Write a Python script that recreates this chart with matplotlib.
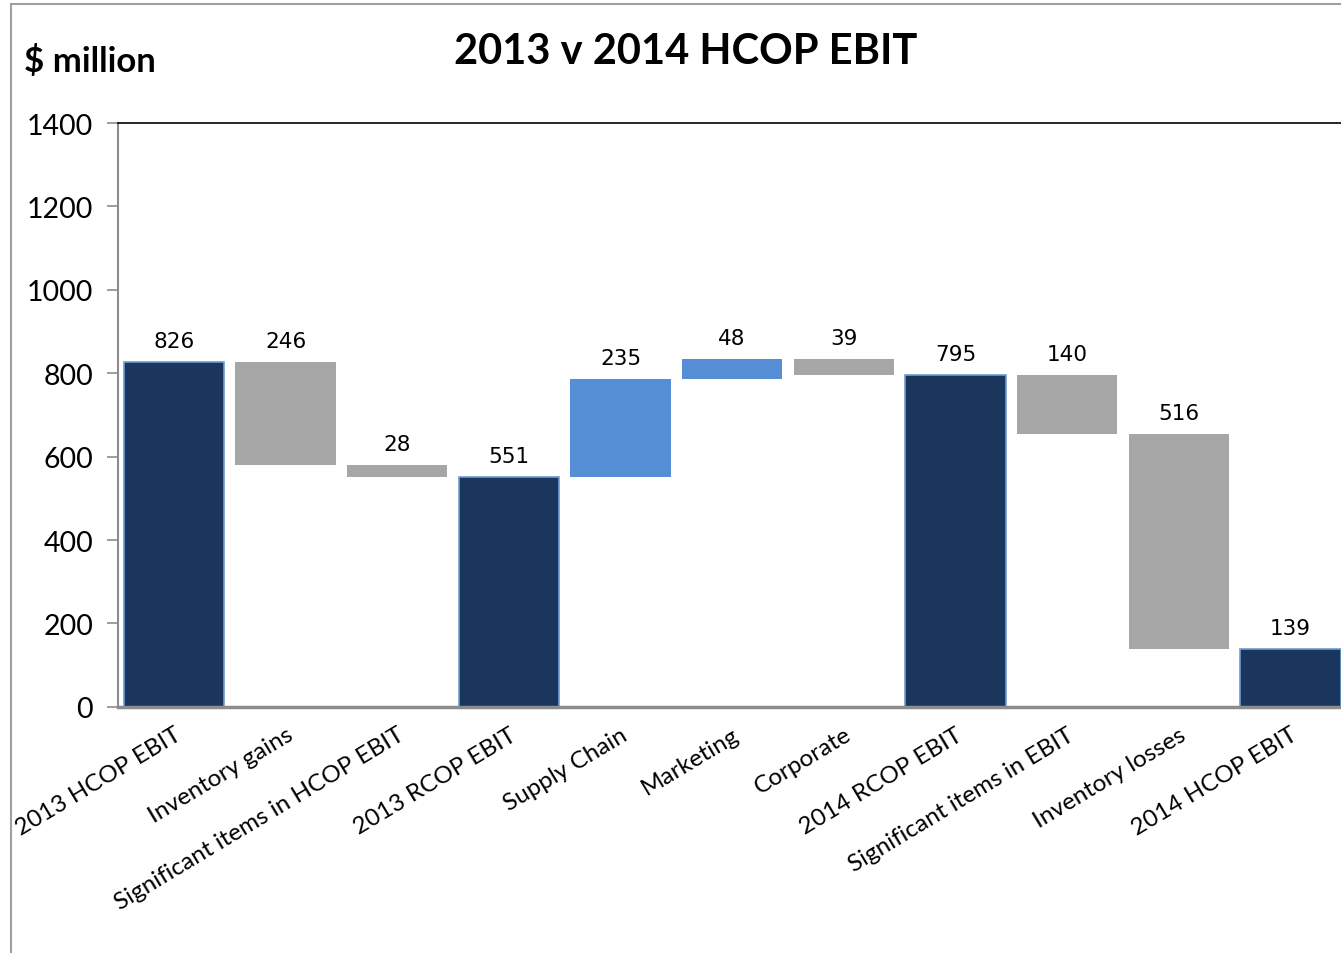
import matplotlib.pyplot as plt
import numpy as np
from matplotlib.patches import Rectangle

# Bridge data ($ million)
categories = [
    "2013 HCOP EBIT",
    "Inventory gains",
    "Significant items in HCOP EBIT",
    "2013 RCOP EBIT",
    "Supply Chain",
    "Marketing",
    "Corporate",
    "2014 RCOP EBIT",
    "Significant items in EBIT",
    "Inventory losses",
    "2014 HCOP EBIT",
]
# signed change for steps, level for totals
values = [826, -246, -28, 551, 235, 48, -39, 795, -140, -516, 139]
kinds = ["total", "step", "step", "total", "step", "step", "step",
         "total", "step", "step", "total"]

navy = "#1b365d"
navy_edge = "#6f9bd1"
grey = "#a6a6a6"
blue = "#558ed5"

plt.rcParams["font.family"] = ["Lato", "DejaVu Sans"]

fig = plt.figure(figsize=(13.41, 9.54), dpi=100)
ax = fig.add_axes([0.088, 0.258, 0.916, 0.612])

x = np.arange(len(categories))
level = 0
for i, (v, k) in enumerate(zip(values, kinds)):
    if k == "total":
        bottom, height = 0, v
        level = v
        color, ec, lw = navy, navy_edge, 1.2
    else:
        if v >= 0:
            bottom, height = level, v
            color = blue
        else:
            bottom, height = level + v, -v
            color = grey
        level = level + v
        ec, lw = "none", 0
    ax.bar(x[i], height, bottom=bottom, width=0.9, color=color,
           edgecolor=ec, linewidth=lw)
    ax.annotate(f"{abs(v)}", (x[i], bottom + height), xytext=(0, 8),
                textcoords="offset points", ha="center", va="bottom",
                fontsize=15.5, family="DejaVu Sans")

ax.set_xlim(-0.5, len(categories) - 0.5)
ax.set_ylim(0, 1400)
ax.set_yticks(range(0, 1401, 200))
ax.tick_params(axis="y", labelsize=20.5, length=8, width=1.2, color="#8c8c8c",
               pad=10)
ax.set_xticks(x)
ax.set_xticklabels(categories, rotation=31, ha="right",
                   rotation_mode="anchor", fontsize=17.5)
ax.tick_params(axis="x", length=0, pad=12)

ax.spines["right"].set_visible(False)
ax.spines["top"].set_color("black")
ax.spines["top"].set_linewidth(1.2)
ax.spines["left"].set_color("#8c8c8c")
ax.spines["left"].set_linewidth(1.5)
ax.spines["bottom"].set_color("#8c8c8c")
ax.spines["bottom"].set_linewidth(2.5)

fig.text(0.511, 0.946, "2013 v 2014 HCOP EBIT", ha="center", va="center",
         fontsize=30, fontweight="bold")
fig.text(0.018, 0.936, "$ million", ha="left", va="center",
         fontsize=25, fontweight="bold")

# outer chart frame
fig.patches.append(Rectangle((0.0082, -0.01), 1.1, 1.005,
                             transform=fig.transFigure, fill=False,
                             edgecolor="#a0a0a0", linewidth=1.5))

fig.savefig("out.png", dpi=100)
